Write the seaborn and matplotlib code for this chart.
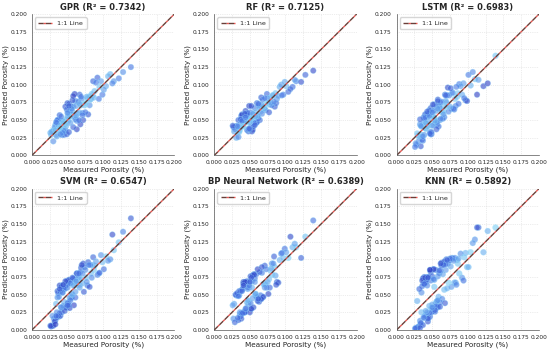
import numpy as np
import pandas as pd
import matplotlib
matplotlib.use("Agg")
import matplotlib.pyplot as plt
import seaborn as sns

# measured porosity of the test samples (same for every model)
measured = [
    0.031, 0.042, 0.055, 0.048, 0.067, 0.038, 0.072, 0.051, 0.085, 0.044,
    0.036, 0.059, 0.063, 0.041, 0.078, 0.047, 0.053, 0.092, 0.034, 0.069,
    0.045, 0.058, 0.039, 0.081, 0.050, 0.064, 0.028, 0.074, 0.056, 0.097,
    0.043, 0.061, 0.035, 0.088, 0.049, 0.070, 0.052, 0.040, 0.104, 0.057,
    0.033, 0.066, 0.046, 0.079, 0.054, 0.037, 0.083, 0.060, 0.030, 0.076,
    0.048, 0.094, 0.042, 0.065, 0.051, 0.110, 0.039, 0.071, 0.055, 0.086,
    0.044, 0.062, 0.036, 0.099, 0.053, 0.068, 0.041, 0.077, 0.047, 0.115,
    0.032, 0.058, 0.050, 0.090, 0.045, 0.073, 0.038, 0.063, 0.056, 0.082,
    0.027, 0.067, 0.043, 0.101, 0.049, 0.060, 0.035, 0.080, 0.052, 0.107,
    0.040, 0.057, 0.046, 0.075, 0.029, 0.095, 0.054, 0.069, 0.037, 0.122,
    0.034, 0.047, 0.061, 0.052, 0.071, 0.043, 0.087, 0.039, 0.058, 0.113,
    0.026, 0.050, 0.066, 0.044, 0.084, 0.128, 0.041, 0.062, 0.139, 0.033,
]

pred_gpr = [
    0.036, 0.029, 0.057, 0.042, 0.086, 0.035, 0.050, 0.061, 0.085, 0.036,
    0.050, 0.057, 0.037, 0.047, 0.081, 0.036, 0.061, 0.110, 0.029, 0.071,
    0.029, 0.069, 0.037, 0.071, 0.074, 0.059, 0.034, 0.071, 0.069, 0.105,
    0.043, 0.077, 0.027, 0.091, 0.030, 0.080, 0.073, 0.038, 0.098, 0.062,
    0.043, 0.061, 0.048, 0.058, 0.062, 0.050, 0.080, 0.087, 0.020, 0.074,
    0.051, 0.080, 0.036, 0.076, 0.049, 0.115, 0.057, 0.060, 0.055, 0.105,
    0.039, 0.070, 0.050, 0.086, 0.055, 0.044, 0.039, 0.083, 0.069, 0.105,
    0.040, 0.040, 0.055, 0.103, 0.035, 0.073, 0.041, 0.049, 0.066, 0.079,
    0.029, 0.073, 0.032, 0.093, 0.065, 0.054, 0.046, 0.083, 0.033, 0.112,
    0.030, 0.078, 0.046, 0.061, 0.034, 0.097, 0.046, 0.083, 0.043, 0.109,
    0.047, 0.044, 0.051, 0.070, 0.057, 0.049, 0.082, 0.039, 0.084, 0.102,
    0.032, 0.060, 0.050, 0.046, 0.087, 0.118, 0.055, 0.056, 0.125, 0.036,
]

pred_rf = [
    0.025, 0.053, 0.058, 0.034, 0.067, 0.056, 0.064, 0.053, 0.069, 0.049,
    0.039, 0.046, 0.071, 0.055, 0.072, 0.047, 0.034, 0.097, 0.050, 0.066,
    0.055, 0.056, 0.058, 0.071, 0.055, 0.050, 0.034, 0.087, 0.051, 0.086,
    0.056, 0.056, 0.038, 0.080, 0.070, 0.068, 0.041, 0.048, 0.090, 0.067,
    0.033, 0.082, 0.036, 0.082, 0.036, 0.045, 0.085, 0.047, 0.041, 0.074,
    0.037, 0.100, 0.056, 0.062, 0.061, 0.097, 0.057, 0.066, 0.041, 0.088,
    0.063, 0.052, 0.036, 0.104, 0.050, 0.079, 0.049, 0.061, 0.049, 0.105,
    0.042, 0.061, 0.037, 0.084, 0.059, 0.073, 0.051, 0.068, 0.046, 0.085,
    0.040, 0.059, 0.048, 0.098, 0.038, 0.074, 0.033, 0.074, 0.070, 0.094,
    0.042, 0.043, 0.057, 0.081, 0.037, 0.085, 0.059, 0.069, 0.051, 0.104,
    0.026, 0.060, 0.056, 0.052, 0.081, 0.059, 0.074, 0.049, 0.055, 0.107,
    0.042, 0.047, 0.072, 0.054, 0.076, 0.114, 0.041, 0.073, 0.120, 0.041,
]

pred_lstm = [
    0.020, 0.058, 0.050, 0.067, 0.054, 0.041, 0.096, 0.043, 0.083, 0.055,
    0.042, 0.041, 0.076, 0.038, 0.088, 0.033, 0.072, 0.086, 0.013, 0.077,
    0.043, 0.079, 0.047, 0.065, 0.056, 0.061, 0.015, 0.085, 0.070, 0.078,
    0.059, 0.050, 0.029, 0.101, 0.030, 0.075, 0.052, 0.058, 0.099, 0.043,
    0.044, 0.063, 0.064, 0.089, 0.046, 0.021, 0.070, 0.066, 0.028, 0.095,
    0.030, 0.102, 0.045, 0.052, 0.072, 0.108, 0.029, 0.085, 0.063, 0.088,
    0.050, 0.075, 0.022, 0.077, 0.053, 0.086, 0.038, 0.066, 0.063, 0.107,
    0.027, 0.077, 0.042, 0.098, 0.059, 0.062, 0.054, 0.063, 0.037, 0.080,
    0.017, 0.070, 0.057, 0.114, 0.033, 0.070, 0.041, 0.066, 0.055, 0.118,
    0.054, 0.047, 0.056, 0.069, 0.031, 0.081, 0.049, 0.085, 0.027, 0.098,
    0.042, 0.031, 0.067, 0.063, 0.069, 0.062, 0.073, 0.052, 0.066, 0.086,
    0.012, 0.061, 0.058, 0.041, 0.097, 0.102, 0.046, 0.052, 0.141, 0.051,
]

pred_svm = [
    0.016, 0.062, 0.046, 0.063, 0.064, 0.019, 0.094, 0.039, 0.092, 0.058,
    0.046, 0.035, 0.080, 0.032, 0.063, 0.059, 0.046, 0.078, 0.037, 0.088,
    0.040, 0.072, 0.063, 0.061, 0.060, 0.064, 0.006, 0.089, 0.046, 0.106,
    0.063, 0.046, 0.025, 0.091, 0.032, 0.092, 0.066, 0.020, 0.104, 0.050,
    0.014, 0.075, 0.058, 0.096, 0.042, 0.052, 0.080, 0.070, 0.006, 0.074,
    0.063, 0.080, 0.025, 0.074, 0.070, 0.100, 0.024, 0.066, 0.067, 0.103,
    0.034, 0.069, 0.055, 0.096, 0.031, 0.082, 0.061, 0.068, 0.032, 0.113,
    0.012, 0.073, 0.038, 0.097, 0.059, 0.054, 0.047, 0.080, 0.051, 0.092,
    0.005, 0.060, 0.053, 0.086, 0.069, 0.063, 0.018, 0.092, 0.071, 0.098,
    0.054, 0.074, 0.027, 0.085, 0.020, 0.081, 0.066, 0.072, 0.020, 0.124,
    0.020, 0.069, 0.054, 0.035, 0.080, 0.053, 0.085, 0.058, 0.063, 0.135,
    0.006, 0.035, 0.080, 0.064, 0.074, 0.139, 0.032, 0.069, 0.158, 0.008,
]

pred_bp = [
    0.049, 0.026, 0.078, 0.037, 0.081, 0.016, 0.065, 0.076, 0.089, 0.026,
    0.022, 0.079, 0.040, 0.068, 0.060, 0.058, 0.069, 0.099, 0.014, 0.065,
    0.067, 0.049, 0.023, 0.094, 0.025, 0.082, 0.037, 0.060, 0.079, 0.102,
    0.025, 0.086, 0.049, 0.068, 0.060, 0.065, 0.030, 0.058, 0.102, 0.073,
    0.049, 0.044, 0.039, 0.084, 0.077, 0.019, 0.094, 0.047, 0.050, 0.051,
    0.041, 0.108, 0.064, 0.049, 0.038, 0.117, 0.057, 0.091, 0.032, 0.077,
    0.067, 0.044, 0.025, 0.115, 0.060, 0.046, 0.066, 0.072, 0.060, 0.117,
    0.052, 0.051, 0.068, 0.067, 0.031, 0.086, 0.024, 0.043, 0.078, 0.078,
    0.016, 0.089, 0.025, 0.110, 0.063, 0.047, 0.055, 0.087, 0.030, 0.132,
    0.024, 0.068, 0.069, 0.068, 0.011, 0.109, 0.045, 0.047, 0.055, 0.102,
    0.048, 0.042, 0.041, 0.074, 0.060, 0.068, 0.064, 0.055, 0.051, 0.122,
    0.035, 0.068, 0.044, 0.030, 0.104, 0.132, 0.063, 0.044, 0.155, 0.017,
]

pred_knn = [
    0.005, 0.072, 0.037, 0.082, 0.057, 0.066, 0.094, 0.027, 0.099, 0.012,
    0.062, 0.047, 0.095, 0.021, 0.102, 0.019, 0.061, 0.074, 0.008, 0.085,
    0.017, 0.076, 0.075, 0.067, 0.076, 0.044, 0.002, 0.098, 0.040, 0.109,
    0.075, 0.039, 0.053, 0.080, 0.031, 0.100, 0.086, 0.020, 0.110, 0.033,
    0.013, 0.094, 0.034, 0.101, 0.026, 0.073, 0.067, 0.080, 0.004, 0.090,
    0.070, 0.070, 0.070, 0.079, 0.031, 0.128, 0.017, 0.059, 0.085, 0.094,
    0.016, 0.084, 0.070, 0.089, 0.071, 0.038, 0.067, 0.061, 0.085, 0.145,
    0.058, 0.032, 0.036, 0.108, 0.075, 0.067, 0.018, 0.091, 0.034, 0.102,
    0.003, 0.097, 0.063, 0.089, 0.025, 0.084, 0.025, 0.098, 0.086, 0.123,
    0.074, 0.041, 0.024, 0.101, 0.041, 0.103, 0.028, 0.093, 0.007, 0.110,
    0.010, 0.085, 0.033, 0.072, 0.099, 0.025, 0.101, 0.065, 0.042, 0.145,
    0.002, 0.032, 0.092, 0.074, 0.064, 0.140, 0.027, 0.094, 0.145, 0.003,
]

models = ["GPR", "RF", "LSTM", "SVM", "BP Neural Network", "KNN"]
r2_scores = [0.7342, 0.7125, 0.6983, 0.6547, 0.6389, 0.5892]
predictions = [pred_gpr, pred_rf, pred_lstm, pred_svm, pred_bp, pred_knn]

sns.set_style("white")
plt.rcParams['font.family'] = ['DejaVu Sans']

fig, axes = plt.subplots(2, 3, figsize=(5.5, 3.52), dpi=100)
fig.subplots_adjust(left=0.058, right=0.98, top=0.96, bottom=0.0625,
                    wspace=0.28, hspace=0.235)

pal = sns.blend_palette(["#7fd0f5", "#4a78e4", "#3040c4"], as_cmap=True)
ticks = np.arange(0, 0.2001, 0.025)

for ax, name, r2, pred in zip(axes.flat, models, r2_scores, predictions):
    df = pd.DataFrame({"measured": measured, "predicted": pred})
    df["err"] = (df["predicted"] - df["measured"]).abs()
    sns.scatterplot(data=df, x="measured", y="predicted", hue="err",
                    palette=pal, s=18, alpha=0.62, edgecolor="#9fe3ff",
                    linewidth=0.3, legend=False, ax=ax)
    ax.plot([0, 0.2], [0, 0.2], linestyle="--", color="#5a2a22",
            gapcolor="#e8413c", lw=1.0, alpha=0.9, label="1:1 Line")
    ax.set_xlim(0, 0.2)
    ax.set_ylim(0, 0.2)
    ax.set_xticks(ticks)
    ax.set_yticks(ticks)
    ax.set_xticklabels([f"{t:.3f}" for t in ticks])
    ax.set_yticklabels([f"{t:.3f}" for t in ticks])
    ax.tick_params(labelsize=4.2, length=2, width=0.5, pad=1.5)
    ax.grid(True, linestyle=":", color="#cccccc", linewidth=0.5, alpha=0.7)
    ax.set_title(f"{name} (R² = {r2:.4f})", fontsize=6, fontweight="bold", pad=3)
    ax.set_xlabel("Measured Porosity (%)", fontsize=5.2, labelpad=1)
    ax.set_ylabel("Predicted Porosity (%)", fontsize=5.2, labelpad=1)
    ax.legend(loc="upper left", fontsize=4.6, frameon=True, framealpha=0.8,
              handlelength=2.2, borderpad=0.5)
    for sp in ["left", "bottom"]:
        ax.spines[sp].set_linewidth(0.5)
        ax.spines[sp].set_color("#555555")
    sns.despine(ax=ax)

fig.savefig("out.png", dpi=100)
